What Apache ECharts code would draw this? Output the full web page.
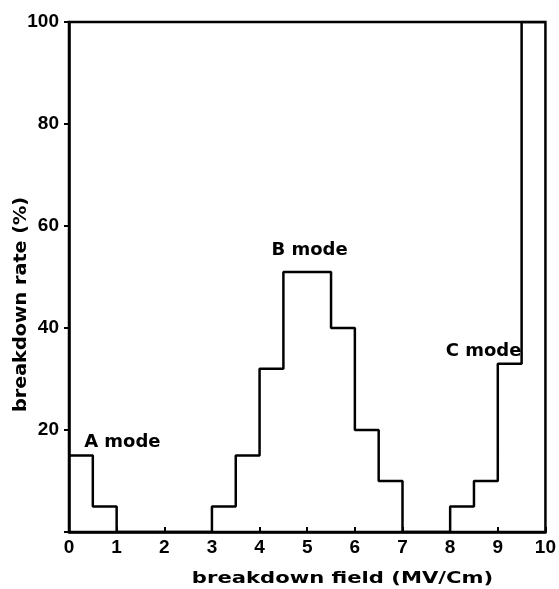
<!DOCTYPE html>
<html>
<head>
<meta charset="utf-8">
<script src="https://cdn.jsdelivr.net/npm/echarts@6/dist/echarts.min.js"></script>
<style>html,body{margin:0;padding:0;background:#fff;}#c{width:559px;height:589px;}</style>
</head>
<body>
<div id="c"></div>
<script>
// bin left edges (MV/cm), bin width 0.5
var binStarts = [0,0.5,1,1.5,2,2.5,3,3.5,4,4.5,5,5.5,6,6.5,7,7.5,8,8.5,9,9.5];
var rates =     [15,5,0,0,0,0,5,15,32,51,51,40,20,10,0,0,5,10,33,100];
var xTicks = [0,1,2,3,4,5,6,7,8,9,10];
var yTicks = [20,40,60,80,100];
var annotationTexts = ['A mode','B mode','C mode'];
var annotationX = [1.12, 5.05, 8.7];
var annotationY = [17.6, 55.2, 35.5];

var data = binStarts.map(function(s,i){return [s, rates[i]];});
data.push([10, rates[rates.length-1]]);

var chart = echarts.init(document.getElementById('c'));
var FONT = '"Liberation Sans", Arial, sans-serif';
chart.setOption({
  animation:false,
  backgroundColor:'#fff',
  grid:{left:69, right:9, top:22, bottom:57, show:true, borderColor:'#000', borderWidth:2.5, backgroundColor:'transparent'},
  xAxis:{
    type:'value', min:0, max:10, interval:1,
    axisLine:{show:true, lineStyle:{color:'#000', width:2.5}},
    axisTick:{show:true, inside:true, length:5, lineStyle:{color:'#000', width:2}},
    splitLine:{show:false},
    axisLabel:{color:'#000', fontSize:19, fontWeight:'bold', fontFamily:FONT, margin:6,
      formatter:function(v){return xTicks.indexOf(v)>=0 ? String(v) : '';}}
  },
  yAxis:{
    type:'value', min:0, max:100, interval:20,
    axisLine:{show:true, lineStyle:{color:'#000', width:2.5}},
    axisTick:{show:true, inside:false, length:5, lineStyle:{color:'#000', width:2}},
    splitLine:{show:false},
    axisLabel:{color:'#000', fontSize:19, fontWeight:'bold', fontFamily:FONT, margin:10,
      formatter:function(v){return yTicks.indexOf(v)>=0 ? String(v) : '';}}
  },
  series:[{
    type:'line', step:'end', data:data, symbol:'none',
    lineStyle:{color:'#000', width:2.5},
    markPoint:{
      symbol:'rect', symbolSize:1, itemStyle:{color:'transparent'},
      label:{show:true, color:'#000', fontSize:18, fontWeight:'bold', fontFamily:'"DejaVu Sans", sans-serif', position:'inside'},
      data: annotationTexts.map(function(t,i){return {coord:[annotationX[i],annotationY[i]], value:t, label:{formatter:t}};})
    }
  }],
  graphic:[
    {type:'text', x:342.5, y:579, scaleX:1.32, style:{text:'breakdown field (MV/Cm)', fill:'#000', font:'bold 16px "DejaVu Sans", sans-serif', align:'center', verticalAlign:'middle'}},
    {type:'text', x:22, y:304.5, rotation:Math.PI/2, scaleX:1.13, style:{text:'breakdown rate (%)', fill:'#000', font:'bold 17px "DejaVu Sans", sans-serif', align:'center', verticalAlign:'middle'}}
  ]
});
</script>
</body>
</html>
